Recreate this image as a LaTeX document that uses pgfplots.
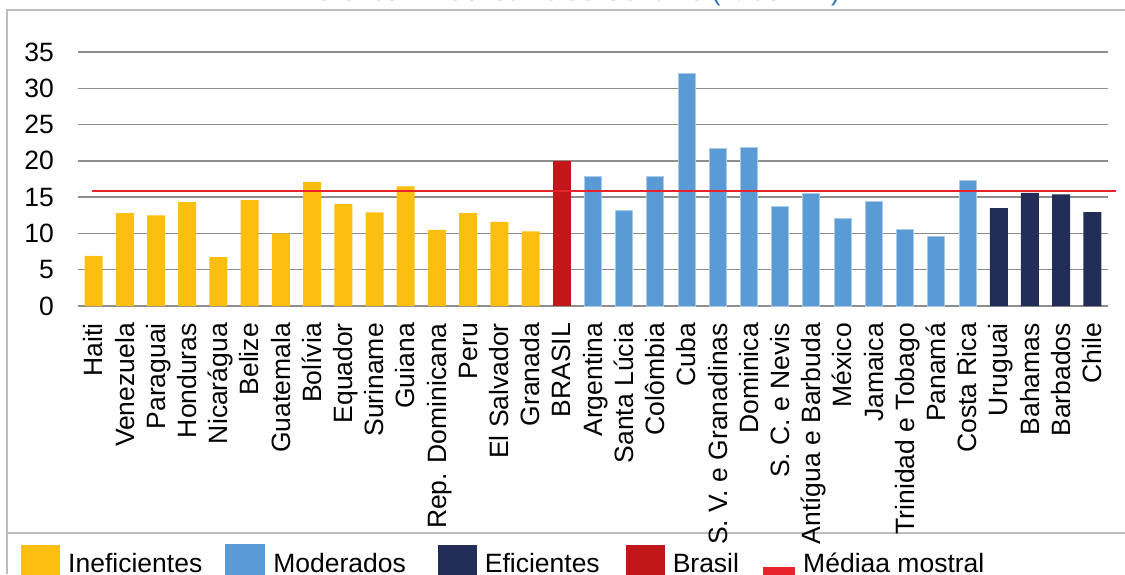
\documentclass[border=0pt]{standalone}
\usepackage{fontspec}
\setmainfont{Liberation Sans}
\usepackage{pgfplots}
\pgfplotsset{compat=1.18}

\definecolor{inef}{HTML}{FCBF10}
\definecolor{moder}{HTML}{5B9BD5}
\definecolor{moderborda}{HTML}{A9CBEA}
\definecolor{efic}{HTML}{222E58}
\definecolor{bras}{HTML}{C1171B}
\definecolor{media}{HTML}{E8232A}
\definecolor{grade}{HTML}{8E8E8E}
\definecolor{moldura}{HTML}{BDBDBD}
\definecolor{titulo}{HTML}{2E75B6}

\newcommand\fs{\fontsize{26.5}{30}\selectfont}

\begin{document}
\begin{tikzpicture}[x=1pt,y=1pt]
% moldura do grafico
\draw[moldura, line width=1.5pt] (7,-574) -- (7,-10) -- (1125,-10);
\draw[moldura, line width=1.5pt] (7,-533) -- (1125,-533);
% titulo (cortado pela borda superior)
\node[anchor=base west, inner sep=0pt, text=titulo, font=\fs] at (314,0)
  {Gráfico 1 - Consumo do Governo (\% do PIB)};

\begin{axis}[
  at={(78pt,-306pt)}, anchor=south west,
  width=1030pt, height=254pt, scale only axis,
  xmin=-0.5, xmax=32.5, ymin=0, ymax=35,
  clip=false,
  axis line style={draw=none},
  tick style={draw=none},
  ytick={0,5,...,35},
  ymajorgrids,
  grid style={grade, line width=1.4pt},
  xtick={0,...,32},
  xticklabels={Haiti, Venezuela, Paraguai, Honduras, Nicarágua, Belize,
    Guatemala, Bolívia, Equador, Suriname, Guiana, Rep. Dominicana, Peru,
    El Salvador, Granada, BRASIL, Argentina, Santa Lúcia, Colômbia, Cuba,
    S. V. e Granadinas, Dominica, S. C. e Nevis, Antígua e Barbuda, México,
    Jamaica, Trinidad e Tobago, Panamá, Costa Rica, Uruguai, Bahamas,
    Barbados, Chile},
  /pgf/number format/assume math mode=true,
  tick label style={font=\fs},
  xticklabel style={yshift=-17pt, rotate=90, anchor=east, inner sep=0pt,
    text height=24pt, text depth=5.6pt},
  yticklabel style={anchor=east, inner sep=0pt, xshift=-24pt},
  legend columns=-1,
  legend style={at={(-0.0553,-0.937)}, anchor=north west,
    draw=none, fill=none, inner sep=0pt, font=\fs,
    cells={anchor=base west},
    nodes={inner sep=0pt, text depth=0pt},
    /tikz/every odd column/.append style={column sep=8pt},
    /tikz/column 2/.append style={column sep=23pt},
    /tikz/column 4/.append style={column sep=32pt},
    /tikz/column 6/.append style={column sep=26pt},
    /tikz/column 8/.append style={column sep=24pt},
    /tikz/column 9/.append style={column sep=16pt}},
]

% Ineficientes
\addplot[ybar, bar width=18pt, bar shift=0pt, fill=inef, draw=none,
  legend image code/.code={\fill[inef] (0pt,-2pt) rectangle (39pt,28pt);}]
  coordinates {(0,6.9) (1,12.8) (2,12.5) (3,14.3) (4,6.75) (5,14.6) (6,10.0)
    (7,17.1) (8,14.05) (9,12.9) (10,16.5) (11,10.5) (12,12.8) (13,11.6)
    (14,10.3)};
\addlegendentry{Ineficientes}

% Moderados
\addplot[ybar, bar width=17pt, bar shift=0pt, fill=moder, draw=moderborda,
  line width=1pt,
  legend image code/.code={\fill[moder] (0pt,-2pt) rectangle (39pt,28pt);}]
  coordinates {(16,17.8) (17,13.2) (18,17.8) (19,32.0) (20,21.7) (21,21.85)
    (22,13.65) (23,15.5) (24,12.0) (25,14.4) (26,10.6) (27,9.6) (28,17.35)};
\addlegendentry{Moderados}

% Eficientes
\addplot[ybar, bar width=18pt, bar shift=0pt, fill=efic, draw=none,
  legend image code/.code={\fill[efic] (0pt,-2pt) rectangle (39pt,28pt);}]
  coordinates {(29,13.5) (30,15.6) (31,15.4) (32,12.95)};
\addlegendentry{Eficientes}

% Brasil
\addplot[ybar, bar width=18pt, bar shift=0pt, fill=bras, draw=none,
  legend image code/.code={\fill[bras] (0pt,-2pt) rectangle (39pt,28pt);}]
  coordinates {(15,20.0)};
\addlegendentry{Brasil}

% media amostral
\addplot[media, line width=2.2pt, mark=none,
  legend image code/.code={\fill[media] (0pt,-3pt) rectangle (30pt,5pt);}]
  coordinates {(-0.06,15.85) (32.76,15.85)};
\addlegendentry{Médiaa mostral}

\end{axis}

\pgfresetboundingbox
\useasboundingbox (0,-574) rectangle (1125,0);
\end{tikzpicture}
\end{document}
